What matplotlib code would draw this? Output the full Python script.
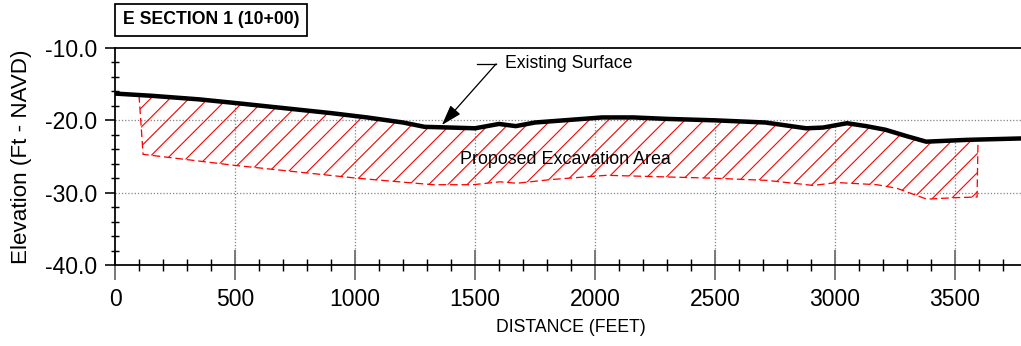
import numpy as np
import matplotlib
matplotlib.use("Agg")
import matplotlib.pyplot as plt
from matplotlib.ticker import MultipleLocator, FormatStrFormatter

# existing ground surface (distance ft, elevation ft NAVD)
surf_x = [0, 150, 350, 500, 700, 900, 1050, 1200, 1290, 1400, 1500, 1600, 1670,
          1750, 1870, 2030, 2160, 2300, 2500, 2710, 2880, 2950, 3050, 3130, 3210,
          3300, 3380, 3550, 3780]
surf_y = [-16.3, -16.6, -17.1, -17.6, -18.3, -19.0, -19.6, -20.3, -20.9, -21.0,
          -21.1, -20.5, -20.8, -20.3, -20.0, -19.6, -19.6, -19.8, -20.0, -20.3,
          -21.1, -21.0, -20.4, -20.8, -21.3, -22.2, -22.95, -22.7, -22.5]

# bottom of proposed excavation
exc_x = [117, 492, 1008, 1325, 1492, 1604, 1674, 1813, 2008, 2049, 2492, 2716,
         2909, 3008, 3175, 3258, 3383, 3492, 3592]
exc_y = [-24.7, -26.2, -28.0, -28.9, -28.9, -28.5, -28.7, -28.2, -27.7, -27.6,
         -28.0, -28.3, -29.0, -28.6, -28.9, -29.4, -30.9, -30.7, -30.6]
exc_start, exc_end = 100, 3596

x_major = [0, 500, 1000, 1500, 2000, 2500, 3000, 3500]
y_major = [-10, -20, -30, -40]

plt.rcParams['font.family'] = ['Liberation Sans', 'DejaVu Sans']
plt.rcParams['hatch.linewidth'] = 0.7

dpi = 115
fig = plt.figure(figsize=(1021 / dpi, 346 / dpi), dpi=dpi)
ax = fig.add_axes([115 / 1021, 81 / 346, 906 / 1021, 217 / 346])
ax.set_xlim(0, 906 / 0.24)
ax.set_ylim(-40, -10)

# grid: horizontal full width, vertical only below the ground
for yv in y_major[1:-1]:
    ax.axhline(yv, color='#888888', lw=0.8, ls=(0, (1, 1.5)), zorder=1)
sx = np.array(surf_x)
sy = np.array(surf_y)
gx = np.array(x_major[1:])
ax.vlines(gx, -40, np.interp(gx, sx, sy), color='#888888', lw=0.8,
          ls=(0, (1, 1.5)), zorder=1)

# excavation polygon
top_mask = (sx > exc_start) & (sx < exc_end)
poly_x = ([exc_start] + list(sx[top_mask]) + [exc_end] + [exc_x[-1]]
          + exc_x[::-1][1:] + [exc_x[0]])
poly_y = ([np.interp(exc_start, sx, sy)] + list(sy[top_mask])
          + [np.interp(exc_end, sx, sy)] + [exc_y[-1]] + exc_y[::-1][1:] + [exc_y[0]])
ax.fill(poly_x, poly_y, facecolor='none', edgecolor='red', hatch='//', lw=0, zorder=2)
outline_x = [exc_start] + exc_x + [exc_end]
outline_y = [np.interp(exc_start, sx, sy)] + exc_y + [np.interp(exc_end, sx, sy)]
ax.plot(outline_x, outline_y, color='red', lw=0.8, ls=(0, (6, 3)), zorder=3)

# existing surface
ax.plot(surf_x, surf_y, color='black', lw=2.8, solid_joinstyle='round', zorder=4)

# annotations
ax.plot([1508, 1588], [-12.2, -12.2], color='black', lw=0.8, zorder=5)
ax.annotate('', xy=(1362, -20.65), xytext=(1588, -12.2),
            arrowprops=dict(arrowstyle='-|>,head_length=1.1,head_width=0.35',
                            mutation_scale=10, color='black', lw=0.8,
                            shrinkA=0, shrinkB=0), zorder=5)
ax.text(1625, -12.2, 'Existing Surface', fontsize=11, va='center', ha='left')
ax.text(1875, -25.35, 'Proposed Excavation Area', fontsize=11.2,
        va='center', ha='center', zorder=6)

# spines and ticks
ax.spines['right'].set_visible(False)
for s in ['left', 'bottom', 'top']:
    ax.spines[s].set_linewidth(1.1)
ax.xaxis.set_major_locator(MultipleLocator(500))
ax.xaxis.set_minor_locator(MultipleLocator(100))
ax.yaxis.set_major_locator(MultipleLocator(10))
ax.yaxis.set_minor_locator(MultipleLocator(2))
ax.yaxis.set_major_formatter(FormatStrFormatter('%.1f'))
ax.tick_params(axis='x', which='major', direction='inout', length=19, width=1.2,
               color='#777777', labelsize=14.3, pad=5, top=False)
ax.tick_params(axis='x', which='minor', direction='inout', length=7.5, width=0.9,
               color='black', top=False)
ax.tick_params(axis='y', which='major', direction='out', length=6.3, width=1.0,
               color='black', labelsize=14.3, pad=5, right=False)
ax.tick_params(axis='y', which='minor', direction='inout', length=5, width=0.9,
               color='black', right=False)
fig.canvas.draw()
ax.xaxis.get_major_ticks()[0].tick1line.set_color('black')

ax.text((22 - 115) / 906, 0.5, 'Elevation (Ft - NAVD)', transform=ax.transAxes,
        rotation=90, fontsize=14, va='center', ha='center')
ax.text((571 - 115) / 906, (265 - 327) / 217, 'DISTANCE (FEET)',
        transform=ax.transAxes, fontsize=11, va='center', ha='center')

fig.text(211 / 1021, 1 - 20 / 346, 'E SECTION 1 (10+00)', fontsize=11,
         fontweight='bold', va='center', ha='center',
         bbox=dict(boxstyle='square,pad=0.42', fc='white', ec='black', lw=1.1))

fig.savefig('out.png', dpi=dpi)
